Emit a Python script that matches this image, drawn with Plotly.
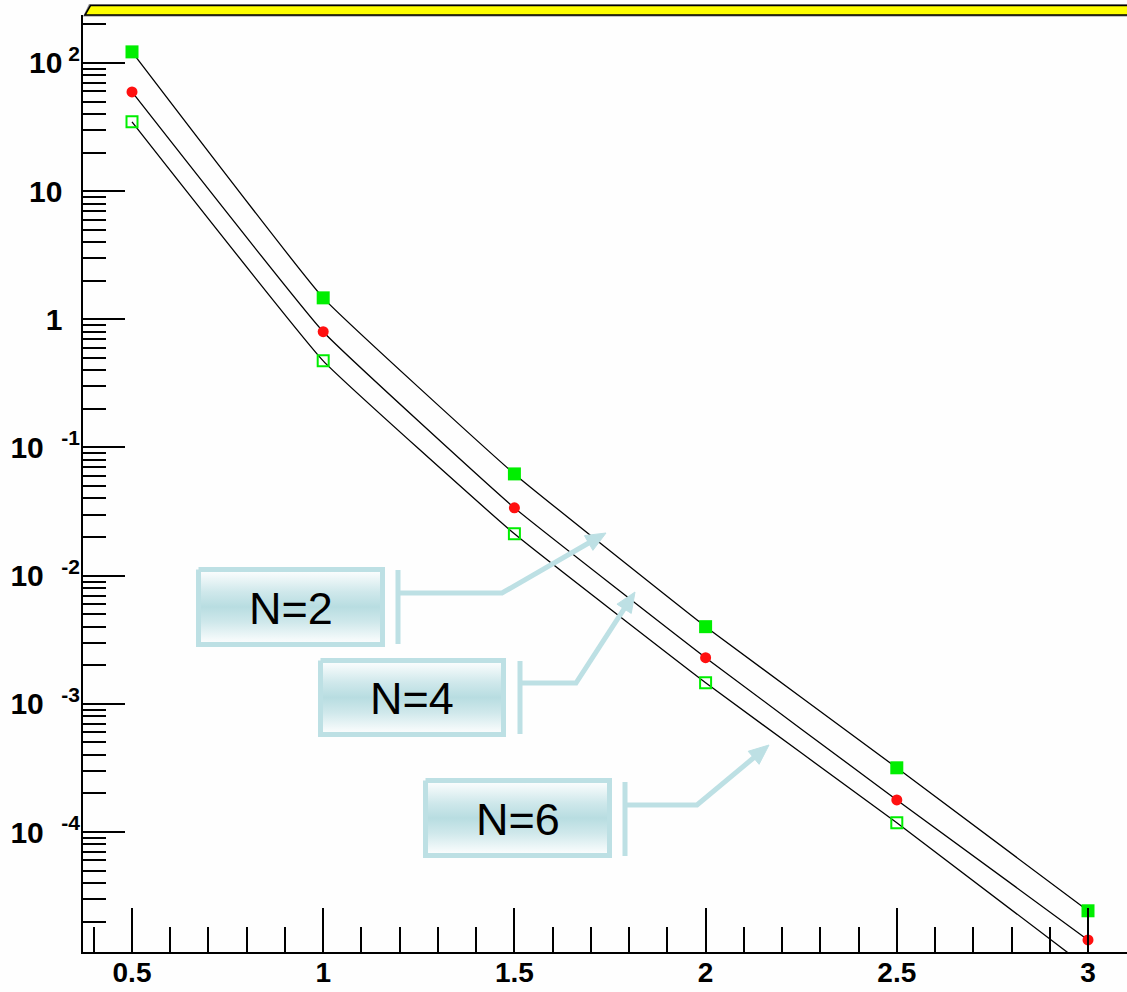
import math
import plotly.graph_objects as go

# ---------------- data ----------------
x_vals = [0.5, 1.0, 1.5, 2.0, 2.5, 3.0]
y_n2 = [122.0, 1.47, 0.0622, 0.0040, 3.17e-4, 2.43e-5]
y_n4 = [59.4, 0.80, 0.0338, 0.00229, 1.78e-4, 1.44e-5]
y_n6 = [34.7, 0.474, 0.0212, 0.00146, 1.18e-4, 8.7e-6]

series_labels = ["N=2", "N=4", "N=6"]

x_tick_vals = [0.5, 1.0, 1.5, 2.0, 2.5, 3.0]
x_tick_text = ["0.5", "1", "1.5", "2", "2.5", "3"]
x_minor_vals = [0.4, 0.6, 0.7, 0.8, 0.9, 1.1, 1.2, 1.3, 1.4, 1.6, 1.7, 1.8, 1.9,
                2.1, 2.2, 2.3, 2.4, 2.6, 2.7, 2.8, 2.9, 3.1]

y_tick_vals = [1e2, 1e1, 1e0, 1e-1, 1e-2, 1e-3, 1e-4]
y_tick_exp = ["2", "", "", "-1", "-2", "-3", "-4"]
y_tick_base = ["10", "10", "1", "10", "10", "10", "10"]

# ---------------- layout constants ----------------
W, H = 1127, 992
L, T, B = 83, 15, 40
PX_LEFT, PX_RIGHT, PX_TOP, PX_BOT = L, W, T, H - B
X_RANGE = [0.5 - 49 / 382.4, 3.0 + 39 / 382.4]
Y_RANGE = [-4.936, 2.374]

GREEN = "#00ee00"
RED = "#ff1010"
CYAN = "#bde0e4"
TICK_FONT = "Liberation Sans"
FONT = "Liberation Sans"


def tick_label(base, exp):
    if exp.startswith("-"):
        return "<b>%s<sup>&nbsp;&nbsp;&nbsp;%s</sup></b>" % (base, exp)
    if exp:
        return "<b>%s<sup>&nbsp;%s</sup></b>" % (base, exp)
    return "<b>%s<sup><span style='color:rgba(0,0,0,0)'>&nbsp;2</span></sup></b>" % base


y_tick_text = [tick_label(b, e) for b, e in zip(y_tick_base, y_tick_exp)]

y_minor_vals = []
for d in range(-5, 3):
    for m in range(2, 10):
        v = m * 10.0 ** d
        if 10 ** Y_RANGE[0] <= v <= 10 ** Y_RANGE[1]:
            y_minor_vals.append(v)

fig = go.Figure()

# curves
for ys in (y_n2, y_n4, y_n6):
    fig.add_trace(go.Scatter(x=x_vals, y=ys, mode="lines",
                             line=dict(color="black", width=1.3, shape="spline", smoothing=0.3),
                             showlegend=False, hoverinfo="skip"))

# markers
fig.add_trace(go.Scatter(x=x_vals, y=y_n6, mode="markers",
                         marker=dict(symbol="square-open", size=11, color=GREEN, line=dict(width=2, color=GREEN)),
                         showlegend=False, name=series_labels[2]))
fig.add_trace(go.Scatter(x=x_vals, y=y_n4, mode="markers",
                         marker=dict(symbol="circle", size=11, color=RED, line=dict(width=0)),
                         showlegend=False, name=series_labels[1]))
fig.add_trace(go.Scatter(x=x_vals, y=y_n2, mode="markers",
                         marker=dict(symbol="square", size=13, color=GREEN, line=dict(width=0)),
                         showlegend=False, name=series_labels[0]))

# ---------------- callout boxes (pixel overlay axes) ----------------
boxes = [
    # label, box x0,x1,y0,y1, bar x, bar y0,y1, horizontal y, horizontal end x, arrow tip
    (series_labels[0], 196, 385, 567, 647, 398, 570, 644, 593, 502, (606, 533)),
    (series_labels[1], 318, 506, 658, 737, 520, 661, 734, 683, 576, (635, 592)),
    (series_labels[2], 423, 612, 778, 858, 625, 782, 856, 805, 697, (769, 745)),
]

HEAD_LEN, HEAD_HALF = 20, 8.5

annotations = []
for (lab, bx0, bx1, by0, by1, barx, bary0, bary1, hy, hx1, tip) in boxes:
    i0, i1, j0, j1 = bx0 + 2.5, bx1 - 2.5, by0 + 2.5, by1 - 2.5
    fig.add_trace(go.Scatter(
        x=[i0, i1, i1, i0, i0], y=[j0, j0, j1, j1, j0], xaxis="x2", yaxis="y2",
        mode="lines", fill="toself",
        fillgradient=dict(type="vertical",
                          colorscale=[[0, "#ffffff"], [0.3, "#cfe8eb"], [0.5, "#b8dde1"],
                                      [0.7, "#cfe8eb"], [1, "#ffffff"]]),
        line=dict(color=CYAN, width=5), showlegend=False, hoverinfo="skip"))
    dx, dy = tip[0] - hx1, tip[1] - hy
    ln = math.hypot(dx, dy)
    ux, uy = dx / ln, dy / ln
    bcx, bcy = tip[0] - ux * HEAD_LEN, tip[1] - uy * HEAD_LEN
    fig.add_trace(go.Scatter(x=[barx, barx], y=[bary0, bary1], xaxis="x2", yaxis="y2", mode="lines",
                             line=dict(color=CYAN, width=5), showlegend=False, hoverinfo="skip"))
    fig.add_trace(go.Scatter(x=[barx, hx1, bcx + ux * 2], y=[hy, hy, bcy + uy * 2], xaxis="x2", yaxis="y2",
                             mode="lines", line=dict(color=CYAN, width=5),
                             showlegend=False, hoverinfo="skip"))
    nx, ny = -uy, ux
    fig.add_trace(go.Scatter(
        x=[tip[0], bcx + nx * HEAD_HALF, bcx - nx * HEAD_HALF, tip[0]],
        y=[tip[1], bcy + ny * HEAD_HALF, bcy - ny * HEAD_HALF, tip[1]],
        xaxis="x2", yaxis="y2", mode="lines", fill="toself", fillcolor=CYAN,
        line=dict(color=CYAN, width=1), showlegend=False, hoverinfo="skip"))
    annotations.append(dict(x=(bx0 + bx1) / 2, y=(by0 + by1) / 2 + 1, xref="x2", yref="y2",
                            text=lab, showarrow=False,
                            font=dict(family=FONT, size=45, color="black")))


def px2paper_x(px):
    return (px - PX_LEFT) / (PX_RIGHT - PX_LEFT)


def px2paper_y(py):
    return (PX_BOT - py) / (PX_BOT - PX_TOP)


def path(pts):
    return "M " + " L ".join("%f,%f" % (px2paper_x(a), px2paper_y(b)) for a, b in pts) + " Z"


shapes = [
    dict(type="path", xref="paper", yref="paper",
         path=path([(83, 16.5), (89, 4), (1140, 4), (1140, 16.5)]),
         fillcolor="#8c8c8c", line=dict(width=0), layer="above"),
    dict(type="path", xref="paper", yref="paper",
         path=path([(85, 15), (90.5, 5.5), (1140, 5.5), (1140, 15)]),
         fillcolor="#ffff00", line=dict(color="black", width=1.5), layer="above"),
]

fig.update_layout(
    width=W, height=H,
    margin=dict(l=L, r=W - PX_RIGHT, t=T, b=B, pad=0, autoexpand=False),
    paper_bgcolor="#fefefe", plot_bgcolor="#fefefe",
    showlegend=False,
    annotations=annotations,
    shapes=shapes,
    xaxis=dict(
        range=X_RANGE, showgrid=False, zeroline=False, automargin=False,
        showline=True, linecolor="black", linewidth=2,
        ticks="inside", ticklen=44, tickwidth=2, tickcolor="black",
        tickmode="array", tickvals=x_tick_vals, ticktext=["<b>%s</b>" % t for t in x_tick_text],
        tickfont=dict(family=TICK_FONT, size=28, color="black"),
        ticklabelstandoff=-6,
        minor=dict(tickmode="array", tickvals=x_minor_vals, ticks="inside", ticklen=25,
                   tickwidth=2, tickcolor="black", showgrid=False),
    ),
    yaxis=dict(
        type="log", range=Y_RANGE, showgrid=False, zeroline=False, automargin=False,
        showline=True, linecolor="black", linewidth=2,
        ticks="inside", ticklen=42, tickwidth=2, tickcolor="black",
        tickmode="array", tickvals=y_tick_vals, ticktext=y_tick_text,
        tickfont=dict(family=TICK_FONT, size=30, color="black"),
        ticklabelstandoff=-5,
        minor=dict(tickmode="array", tickvals=y_minor_vals, ticks="inside", ticklen=23,
                   tickwidth=2, tickcolor="black", showgrid=False),
    ),
    xaxis2=dict(overlaying="x", anchor="y2", range=[PX_LEFT, PX_RIGHT], visible=False,
                fixedrange=True, automargin=False),
    yaxis2=dict(overlaying="y", anchor="x2", range=[PX_BOT, PX_TOP], visible=False,
                fixedrange=True, automargin=False),
)

fig.write_html("out.html")
